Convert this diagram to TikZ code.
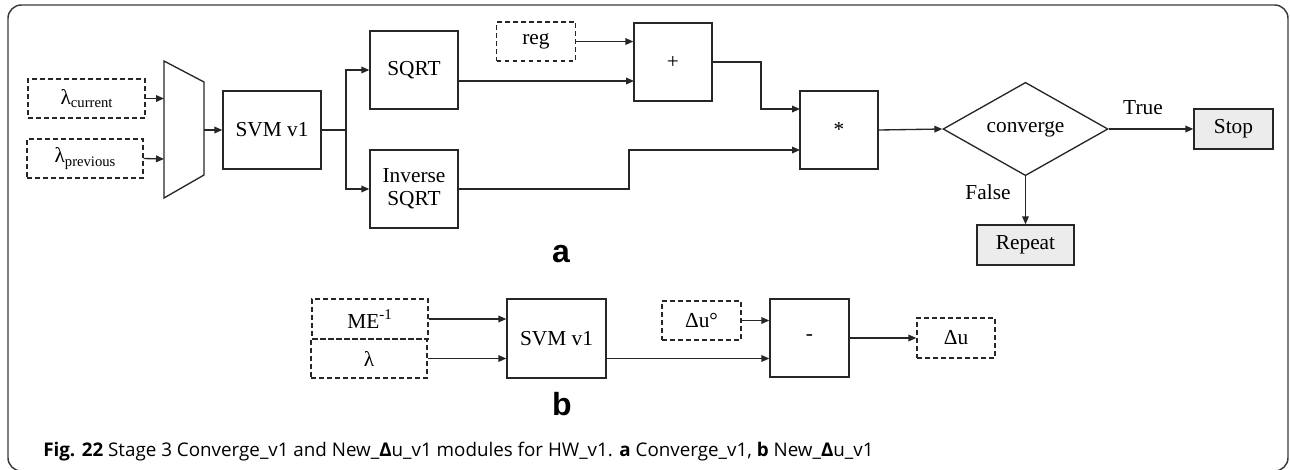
\documentclass[tikz,border=0pt]{standalone}
\usepackage{fontspec}
\setmainfont{Liberation Serif}
\newfontfamily\capfont{Open Sans}
\newfontfamily\labfont{Liberation Sans}
\usetikzlibrary{arrows.meta,shapes.geometric}

\definecolor{ink}{HTML}{262626}
\definecolor{framegray}{HTML}{3A3A3A}
\definecolor{termfill}{HTML}{ECECEC}

\newcommand{\sub}[1]{\raisebox{-0.35ex}{\fontsize{11pt}{12pt}\selectfont #1}}

\tikzset{
  sz/.style 2 args={minimum width=#1*0.75pt, minimum height=#2*0.75pt},
  block/.style={draw=ink, line width=1pt, inner sep=0pt, align=center,
                font=\fontsize{16pt}{18pt}\selectfont},
  inbox/.style={block, dash pattern=on 3.6pt off 2.4pt},
  term/.style={block, fill=termfill},
  decide/.style={draw=ink, line width=1pt, diamond, inner sep=0pt,
                 font=\fontsize{16pt}{18pt}\selectfont},
  wire/.style={draw=ink, line width=1pt},
  arr/.style={wire, -{Triangle[length=6pt,width=5pt]}},
  lbl/.style={font=\fontsize{16pt}{18pt}\selectfont, inner sep=0pt},
  part/.style={font=\labfont\bfseries\fontsize{24pt}{26pt}\selectfont, inner sep=0pt, anchor=base}
}

\begin{document}
\begin{tikzpicture}[x=0.75pt, y=-0.75pt]
\clip (0,0) rectangle (1290,469);

% outer frame
\draw[framegray, line width=1.1pt, rounded corners=10pt] (8,5) rectangle (1288,471);

% ---------- part a ----------
\node[inbox, sz={117}{39}] (lc) at (86.5,98.5) {λ\sub{current}};
\node[inbox, sz={116}{39}] (lp) at (85,158.5) {λ\sub{previous}};

% selector (trapezoid)
\coordinate (mtl) at (164,61);
\coordinate (mtr) at (204,82);
\coordinate (mbr) at (204,175);
\coordinate (mbl) at (164,198);
\draw[wire] (mtl) -- (mtr) -- (mbr) -- (mbl) -- cycle;
\coordinate (mi1) at (164,98.5);
\coordinate (mi2) at (164,159);
\coordinate (mo) at (204,130);

\node[block, sz={98}{78}] (svma) at (272,130) {SVM v1};
\node[block, sz={88}{78}] (sqrt) at (414,70) {SQRT};
\node[block, sz={88}{78}] (isqrt) at (414,189) {Inverse\\[-1pt]SQRT};
\node[inbox, sz={79}{39}] (reg) at (536,41.5) {reg};
\node[block, sz={78}{78}] (plus) at (673,62) {+};
\node[block, sz={78}{78}] (mul) at (839,130) {*};
\node[decide, minimum width=165*0.75pt, minimum height=77*0.75pt] (conv) at (1025.5,129) {converge};
\node[term, sz={79}{40}] (stop) at (1233.5,129) {Stop};
\node[term, sz={97}{40}] (rep) at (1025.5,245) {Repeat};

\draw[arr] (lc.east) -- (mi1);
\draw[arr] (lp.east) -- (mi2);
\draw[arr] (mo) -- (svma.west);

\coordinate (br) at (346,130);
\draw[wire] (svma.east) -- (br);
\draw[arr] (br) |- (sqrt.west);
\draw[arr] (br) |- (isqrt.west);

\draw[arr] (reg.east) -- (reg.east -| plus.west);
\coordinate (p2) at (634,81);
\draw[arr] (sqrt.east |- p2) -- (p2);

\coordinate (m1) at (800,109);
\coordinate (m2) at (800,150);
\coordinate (j1) at (761,62);
\coordinate (j2) at (629,189);
\draw[arr] (plus.east) -- (j1) |- (m1);
\draw[arr] (isqrt.east) -- (j2) |- (m2);

\draw[arr] (mul.east) -- (conv.west);
\draw[arr] (conv.east) -- (stop.west);
\draw[arr] (conv.south) -- (rep.north);
\node[lbl] (tl) at (1143,108) {True};
\node[lbl] (fl) at (988,192) {False};

\node[part] (pa) at (561,262) {a};

% ---------- part b ----------
\node[inbox, sz={116}{40}] (me) at (370,319) {ME\textsuperscript{-1}};
\node[inbox, sz={116}{39}] (lam) at (369,358.5) {λ};
\node[block, sz={99}{79}] (svmb) at (556.5,338.5) {SVM v1};
\node[inbox, sz={79}{39}] (du0) at (701.5,320.5) {Δu°};
\node[block, sz={79}{78}] (minus) at (809.5,338) {-};
\node[inbox, sz={78}{40}] (du) at (956,338) {Δu};

\draw[arr] (me.east) -- (me.east -| svmb.west);
\draw[arr] (lam.east) -- (lam.east -| svmb.west);
\draw[arr] (du0.east) -- (du0.east -| minus.west);
\draw[arr] (svmb.east |- lam.east) -- (minus.west |- lam.east);
\draw[arr] (minus.east) -- (du.west);

\node[part] (pb) at (562,415) {b};

% ---------- caption ----------
\node[anchor=base west, inner sep=0pt, font=\capfont\fontsize{14.1pt}{16pt}\selectfont] (cap) at (43,456.5)
  {\textbf{Fig. 22} Stage 3 Converge\_v1 and New\_\textbf{Δ}u\_v1 modules for HW\_v1. \textbf{a} Converge\_v1, \textbf{b} New\_\textbf{Δ}u\_v1};
\end{tikzpicture}
\end{document}
